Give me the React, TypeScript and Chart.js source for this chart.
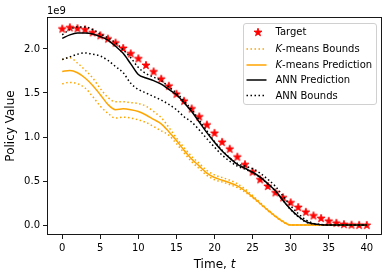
import React, { useEffect, useRef } from 'react';
import { Chart, registerables } from 'chart.js';

Chart.register(...registerables);

// ---- data (values in units of 1e9) ----
const timeSteps = Array.from({ length: 41 }, (_, i) => i);

const target = [2.231, 2.246, 2.235, 2.223, 2.189, 2.155, 2.117, 2.072, 2.011, 1.95, 1.893, 1.818, 1.745, 1.662, 1.582, 1.491, 1.411, 1.324, 1.233, 1.141, 1.047, 0.945, 0.867, 0.777, 0.691, 0.607, 0.52, 0.444, 0.372, 0.315, 0.258, 0.205, 0.151, 0.11, 0.08, 0.049, 0.026, 0.011, 0.005, 0.003, 0.002];

const kmeansPred = [1.745, 1.755, 1.73, 1.67, 1.585, 1.48, 1.37, 1.31, 1.32, 1.31, 1.29, 1.25, 1.2, 1.15, 1.06, 0.96, 0.85, 0.75, 0.67, 0.59, 0.54, 0.51, 0.48, 0.445, 0.39, 0.32, 0.245, 0.17, 0.1, 0.04, 0, 0, 0, 0, 0, 0, 0, 0, 0, 0, 0];
const kmeansUpper = [1.88, 1.9, 1.84, 1.76, 1.67, 1.55, 1.45, 1.4, 1.4, 1.39, 1.38, 1.35, 1.29, 1.22, 1.11, 0.99, 0.88, 0.78, 0.7, 0.62, 0.57, 0.54, 0.51, 0.47, 0.41, 0.335, 0.255, 0.175, 0.105, 0.045, 0, 0, 0, 0, 0, 0, 0, 0, 0, 0, 0];
const kmeansLower = [1.605, 1.62, 1.605, 1.556, 1.46, 1.35, 1.27, 1.215, 1.225, 1.215, 1.195, 1.165, 1.12, 1.07, 1.02, 0.925, 0.82, 0.72, 0.64, 0.565, 0.515, 0.49, 0.46, 0.425, 0.375, 0.31, 0.24, 0.165, 0.095, 0.035, 0, 0, 0, 0, 0, 0, 0, 0, 0, 0, 0];

const annPred = [2.12, 2.16, 2.18, 2.18, 2.17, 2.14, 2.1, 2.03, 1.95, 1.83, 1.71, 1.67, 1.64, 1.6, 1.54, 1.48, 1.39, 1.29, 1.17, 1.05, 0.94, 0.84, 0.76, 0.69, 0.645, 0.6, 0.545, 0.47, 0.39, 0.28, 0.18, 0.1, 0.04, 0.015, 0.005, 0.002, 0.001, 0, 0, 0, 0];
const annUpper = [2.16, 2.22, 2.25, 2.25, 2.22, 2.17, 2.125, 2.07, 1.99, 1.9, 1.79, 1.72, 1.68, 1.64, 1.57, 1.5, 1.41, 1.31, 1.19, 1.07, 0.95, 0.85, 0.765, 0.7, 0.67, 0.64, 0.59, 0.52, 0.44, 0.33, 0.22, 0.13, 0.06, 0.02, 0.007, 0.003, 0.001, 0, 0, 0, 0];
const annLower = [1.88, 1.91, 1.94, 1.955, 1.94, 1.92, 1.87, 1.8, 1.73, 1.61, 1.54, 1.5, 1.46, 1.42, 1.37, 1.31, 1.23, 1.17, 1.08, 0.98, 0.885, 0.795, 0.725, 0.67, 0.635, 0.595, 0.54, 0.465, 0.385, 0.28, 0.175, 0.095, 0.035, 0.012, 0.004, 0.001, 0, 0, 0, 0, 0];

const xTicks = [0, 5, 10, 15, 20, 25, 30, 35, 40];
const yTicks = [0, 0.5, 1.0, 1.5, 2.0];
const yOffsetText = '1e9';
const xTitle = ['Time, ', 't'];
const yTitle = 'Policy Value';

const ORANGE = '#FFA500';
const FONT = "'DejaVu Sans', sans-serif";

const pts = (arr: number[]) => timeSteps.map((t, i) => ({ x: t, y: arr[i] }));

function makeStar(): HTMLCanvasElement {
  const c = document.createElement('canvas');
  c.width = 12;
  c.height = 12;
  const ctx = c.getContext('2d')!;
  const R = 4.2;
  const r = R * 0.382;
  ctx.beginPath();
  for (let k = 0; k < 10; k++) {
    const rad = k % 2 === 0 ? R : r;
    const a = -Math.PI / 2 + (k * Math.PI) / 5;
    const px = 6 + rad * Math.cos(a);
    const py = 6.4 + rad * Math.sin(a);
    if (k === 0) ctx.moveTo(px, py);
    else ctx.lineTo(px, py);
  }
  ctx.closePath();
  ctx.fillStyle = '#FF0000';
  ctx.fill();
  ctx.strokeStyle = '#FF0000';
  ctx.lineWidth = 0.9;
  ctx.lineJoin = 'miter';
  ctx.stroke();
  return c;
}

export default function App() {
  const ref = useRef<HTMLCanvasElement | null>(null);

  useEffect(() => {
    document.body.style.margin = '0';
    const canvas = ref.current!;
    const star = makeStar();

    const allVals = [...target, ...kmeansPred, ...kmeansUpper, ...kmeansLower, ...annPred, ...annUpper, ...annLower];
    const dMin = Math.min(...allVals);
    const dMax = Math.max(...allVals);
    const yPad = (dMax - dMin) * 0.05;
    const xPad = (timeSteps[timeSteps.length - 1] - timeSteps[0]) * 0.05;

    const lineBase = {
      showLine: true,
      pointRadius: 0,
      pointHoverRadius: 0,
      borderWidth: 1.5,
      cubicInterpolationMode: 'monotone' as const,
      fill: false,
    };
    const dotted = [1.5, 2.5];

    const frame = {
      id: 'frame',
      afterDraw(chart: any) {
        const { ctx, chartArea: a } = chart;
        ctx.save();
        ctx.strokeStyle = '#000';
        ctx.lineWidth = 0.9;
        ctx.strokeRect(Math.round(a.left) + 0.5, Math.round(a.top) + 0.5, Math.round(a.right - a.left) - 1, Math.round(a.bottom - a.top) - 1);
        ctx.restore();
      },
    };

    const texts = {
      id: 'texts',
      afterDraw(chart: any) {
        const { ctx, chartArea: a } = chart;
        ctx.save();
        ctx.fillStyle = '#000';
        ctx.font = `10px ${FONT}`;
        ctx.textAlign = 'left';
        ctx.textBaseline = 'alphabetic';
        ctx.fillText(yOffsetText, a.left, a.top - 3);
        const fNorm = `12px ${FONT}`;
        const fIt = `oblique 12px ${FONT}`;
        ctx.font = fNorm;
        const w1 = ctx.measureText(xTitle[0]).width;
        ctx.font = fIt;
        const w2 = ctx.measureText(xTitle[1]).width;
        const cx = (a.left + a.right) / 2;
        const x0 = cx - (w1 + w2) / 2;
        ctx.textBaseline = 'middle';
        ctx.font = fNorm;
        ctx.fillText(xTitle[0], x0, 265);
        ctx.font = fIt;
        ctx.fillText(xTitle[1], x0 + w1, 265);
        ctx.font = fNorm;
        ctx.translate(11, (a.top + a.bottom) / 2);
        ctx.rotate(-Math.PI / 2);
        ctx.textAlign = 'center';
        ctx.fillText(yTitle, 0, 0);
        ctx.restore();
      },
    };

    const legendEntries = [
      { kind: 'star', parts: [['Target', false]] },
      { kind: 'line', color: ORANGE, dash: dotted, parts: [['K', true], ['-means Bounds', false]] },
      { kind: 'line', color: ORANGE, dash: [], parts: [['K', true], ['-means Prediction', false]] },
      { kind: 'line', color: '#000', dash: [], parts: [['ANN Prediction', false]] },
      { kind: 'line', color: '#000', dash: dotted, parts: [['ANN Bounds', false]] },
    ];
    const rowY = [32, 49, 65, 80, 95.5];

    const customLegend = {
      id: 'customLegend',
      afterDraw(chart: any) {
        const { ctx } = chart;
        ctx.save();
        const bx = 243.5, by = 23.5, bw = 133, bh = 81;
        const rr = 2.5;
        ctx.beginPath();
        ctx.moveTo(bx + rr, by);
        ctx.lineTo(bx + bw - rr, by);
        ctx.quadraticCurveTo(bx + bw, by, bx + bw, by + rr);
        ctx.lineTo(bx + bw, by + bh - rr);
        ctx.quadraticCurveTo(bx + bw, by + bh, bx + bw - rr, by + bh);
        ctx.lineTo(bx + rr, by + bh);
        ctx.quadraticCurveTo(bx, by + bh, bx, by + bh - rr);
        ctx.lineTo(bx, by + rr);
        ctx.quadraticCurveTo(bx, by, bx + rr, by);
        ctx.closePath();
        ctx.fillStyle = 'rgba(255,255,255,0.8)';
        ctx.fill();
        ctx.strokeStyle = '#d0d0d0';
        ctx.lineWidth = 1;
        ctx.stroke();

        legendEntries.forEach((e: any, i) => {
          const y = rowY[i];
          if (e.kind === 'star') {
            ctx.drawImage(star, 258 - 6, Math.round(y) - 6);
          } else {
            ctx.beginPath();
            ctx.setLineDash(e.dash);
            ctx.strokeStyle = e.color;
            ctx.lineWidth = 1.5;
            ctx.moveTo(246.5, y);
            ctx.lineTo(266.5, y);
            ctx.stroke();
            ctx.setLineDash([]);
          }
          let x = 275.5;
          ctx.fillStyle = '#000';
          ctx.textBaseline = 'middle';
          ctx.textAlign = 'left';
          e.parts.forEach(([txt, it]: [string, boolean]) => {
            ctx.font = `${it ? 'oblique ' : ''}10px ${FONT}`;
            ctx.fillText(txt, x, y + 0.5);
            x += ctx.measureText(txt).width;
          });
        });
        ctx.restore();
      },
    };

    const tickFont = { family: FONT, size: 10 };

    const chart = new Chart(canvas, {
      type: 'scatter',
      data: {
        datasets: [
          {
            label: 'Target',
            data: pts(target),
            showLine: false,
            pointStyle: star,
            pointRadius: 4,
            pointHoverRadius: 4,
            order: 6,
          } as any,
          { ...lineBase, label: 'K-means Bounds', data: pts(kmeansUpper), borderColor: ORANGE, borderDash: dotted, order: 5 },
          { ...lineBase, label: 'K-means Bounds', data: pts(kmeansLower), borderColor: ORANGE, borderDash: dotted, order: 5 },
          { ...lineBase, label: 'K-means Prediction', data: pts(kmeansPred), borderColor: ORANGE, order: 4 },
          { ...lineBase, label: 'ANN Prediction', data: pts(annPred), borderColor: '#000', order: 3 },
          { ...lineBase, label: 'ANN Bounds', data: pts(annUpper), borderColor: '#000', borderDash: dotted, order: 2 },
          { ...lineBase, label: 'ANN Bounds', data: pts(annLower), borderColor: '#000', borderDash: dotted, order: 2 },
        ],
      },
      options: {
        responsive: false,
        devicePixelRatio: 1,
        animation: false,
        events: [],
        layout: { padding: { left: 0, top: 17, right: 10, bottom: 0 } },
        plugins: {
          legend: { display: false },
          tooltip: { enabled: false },
          title: { display: false },
        },
        scales: {
          x: {
            type: 'linear',
            min: timeSteps[0] - xPad,
            max: timeSteps[timeSteps.length - 1] + xPad,
            afterBuildTicks: (s: any) => {
              s.ticks = xTicks.map((v) => ({ value: v }));
            },
            afterFit: (s: any) => {
              s.height = 43;
            },
            grid: { display: true, drawOnChartArea: false, drawTicks: true, tickLength: 4, color: '#000', lineWidth: 0.9 },
            border: { display: false },
            ticks: { padding: 3, font: tickFont, color: '#000', maxRotation: 0, autoSkip: false, callback: (v: any) => String(v) },
          },
          y: {
            type: 'linear',
            min: dMin - yPad,
            max: dMax + yPad,
            afterBuildTicks: (s: any) => {
              s.ticks = yTicks.map((v) => ({ value: v }));
            },
            afterFit: (s: any) => {
              s.width = 47;
            },
            grid: { display: true, drawOnChartArea: false, drawTicks: true, tickLength: 4, color: '#000', lineWidth: 0.9 },
            border: { display: false },
            ticks: { padding: 3, font: tickFont, color: '#000', autoSkip: false, callback: (v: any) => Number(v).toFixed(1) },
          },
        },
      },
      plugins: [frame, texts, customLegend],
    } as any);

    return () => chart.destroy();
  }, []);

  return (
    <div style={{ position: 'absolute', left: 0, top: 0, width: 392, height: 278, background: '#fff' }}>
      <canvas ref={ref} width={392} height={278} style={{ display: 'block', width: 392, height: 278 }} />
    </div>
  );
}
